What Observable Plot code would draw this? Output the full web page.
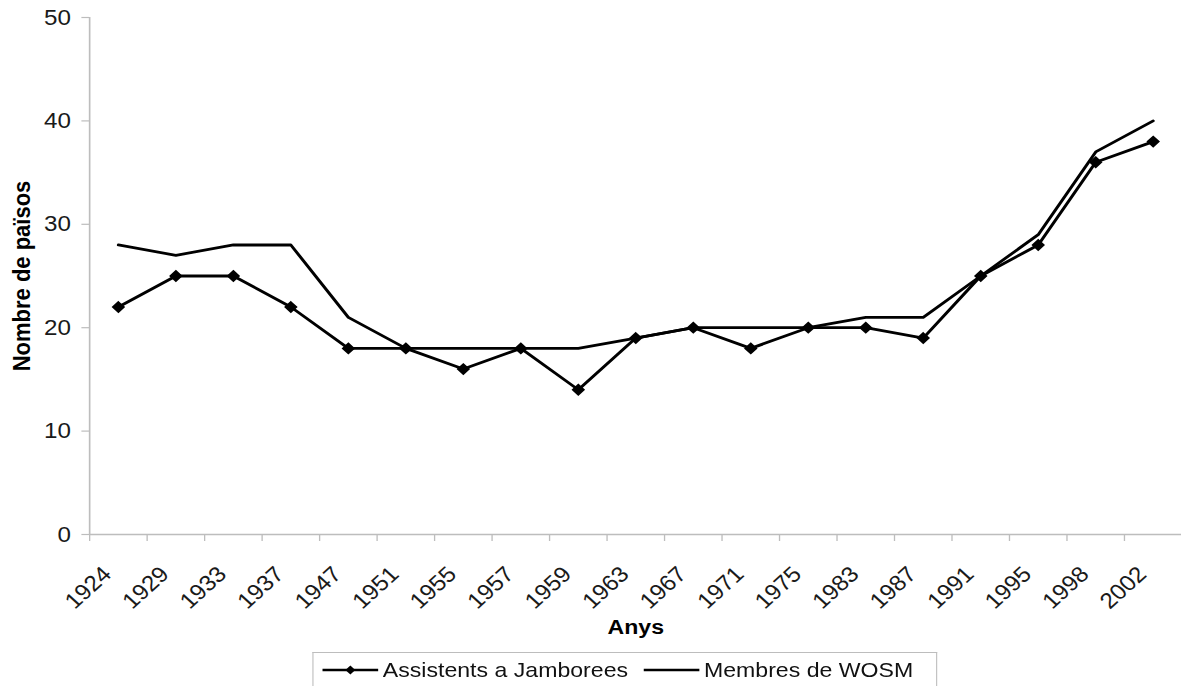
<!DOCTYPE html>
<html>
<head>
<meta charset="utf-8">
<script src="https://cdn.jsdelivr.net/npm/d3@7"></script>
<script src="https://cdn.jsdelivr.net/npm/@observablehq/plot@0.6"></script>
<style>
  html, body { margin: 0; padding: 0; background: #fff; overflow: hidden; }
  #wrap { position: relative; width: 1074px; height: 686px; transform: scaleX(1.1); transform-origin: 0 0; font-family: "Liberation Sans", Arial, sans-serif; }
  #legend { position: absolute; left: 284px; top: 652px; width: 568px; height: 50px; border: 1px solid #bdbdbd; border-bottom: none; box-sizing: border-box; background: #fff; }
  .item { position: absolute; top: 0; height: 34px; display: flex; align-items: center; font-size: 21px; color: #111; white-space: nowrap; }
  .item svg { margin-right: 4px; }
</style>
</head>
<body>
<div id="wrap">
  <div id="chart"></div>
  <div id="legend"></div>
</div>
<script>
const years = ["1924","1929","1933","1937","1947","1951","1955","1957","1959","1963","1967","1971","1975","1983","1987","1991","1995","1998","2002"];
const jamborees = [22,25,25,22,18,18,16,18,14,19,20,18,20,20,19,25,28,36,38];
const wosm = [28,27,28,28,21,18,18,18,18,19,20,20,20,21,21,25,29,37,40];
const yTicks = [0,10,20,30,40,50];
const seriesNames = ["Assistents a Jamborees", "Membres de WOSM"];
const xTitle = "Anys";
const yTitle = "Nombre de països";

const table = years.map((year, i) => ({i, year, jamborees: jamborees[i], wosm: wosm[i]}));
const xPos = d => d.i + 0.5;
const axisGray = "#bdbdbd";

const chart = Plot.plot({
  width: 1074,
  height: 645,
  marginLeft: 81,
  marginRight: 0,
  marginTop: 17,
  marginBottom: 111,
  x: {type: "linear", domain: [0, years.length], axis: null},
  y: {domain: [0, 50], axis: null},
  style: {fontFamily: "'Liberation Sans', Arial, sans-serif", background: "white", overflow: "visible"},
  marks: [
    Plot.ruleY([0], {stroke: axisGray, strokeWidth: 1.5}),
    Plot.ruleX([0], {stroke: axisGray, strokeWidth: 1.5}),
    Plot.axisX({ticks: d3.range(0, years.length + 1), tickSize: 7, tickFormat: () => "", stroke: axisGray, strokeWidth: 1.2, label: null}),
    Plot.axisX({ticks: years.map((y, i) => i + 0.5), tickSize: 0, tickPadding: 36, tickRotate: -45, dx: -10,
      tickFormat: v => years[Math.floor(v)], fontSize: 22, fill: "#1a1a1a", label: null}),
    Plot.axisY({ticks: yTicks, tickSize: 7, tickPadding: 10, stroke: axisGray, strokeWidth: 1.2, fontSize: 22, fill: "#1a1a1a", label: null}),
    Plot.line(table, {x: xPos, y: "wosm", stroke: "black", strokeWidth: 2.8}),
    Plot.line(table, {x: xPos, y: "jamborees", stroke: "black", strokeWidth: 2.8}),
    Plot.dot(table, {x: xPos, y: "jamborees", symbol: "diamond2", r: 4.6, fill: "black", stroke: "black"}),
    Plot.text([yTitle], {text: d => d, frameAnchor: "left", textAnchor: "middle", lineAnchor: "middle", dx: -61, rotate: -90, fontSize: 22, fontWeight: "bold", fill: "black"}),
    Plot.text([xTitle], {text: d => d, frameAnchor: "bottom", textAnchor: "middle", lineAnchor: "middle", dy: 93, fontSize: 21, fontWeight: "bold", fill: "black"})
  ]
});
document.getElementById("chart").appendChild(chart);

// legend
const legend = document.getElementById("legend");
const items = [
  {name: seriesNames[0], marker: true, left: 8},
  {name: seriesNames[1], marker: false, left: 300}
];
items.forEach(it => {
  const div = document.createElement("div");
  div.className = "item";
  div.style.left = it.left + "px";
  const svg = `<svg width="51" height="12" viewBox="0 0 51 12"><line x1="0" y1="6" x2="51" y2="6" stroke="black" stroke-width="2.6"/>` +
    (it.marker ? `<path d="M25.5 1.5 L30 6 L25.5 10.5 L21 6 Z" fill="black"/>` : "") + `</svg>`;
  div.innerHTML = svg + `<span>${it.name}</span>`;
  legend.appendChild(div);
});
</script>
</body>
</html>
